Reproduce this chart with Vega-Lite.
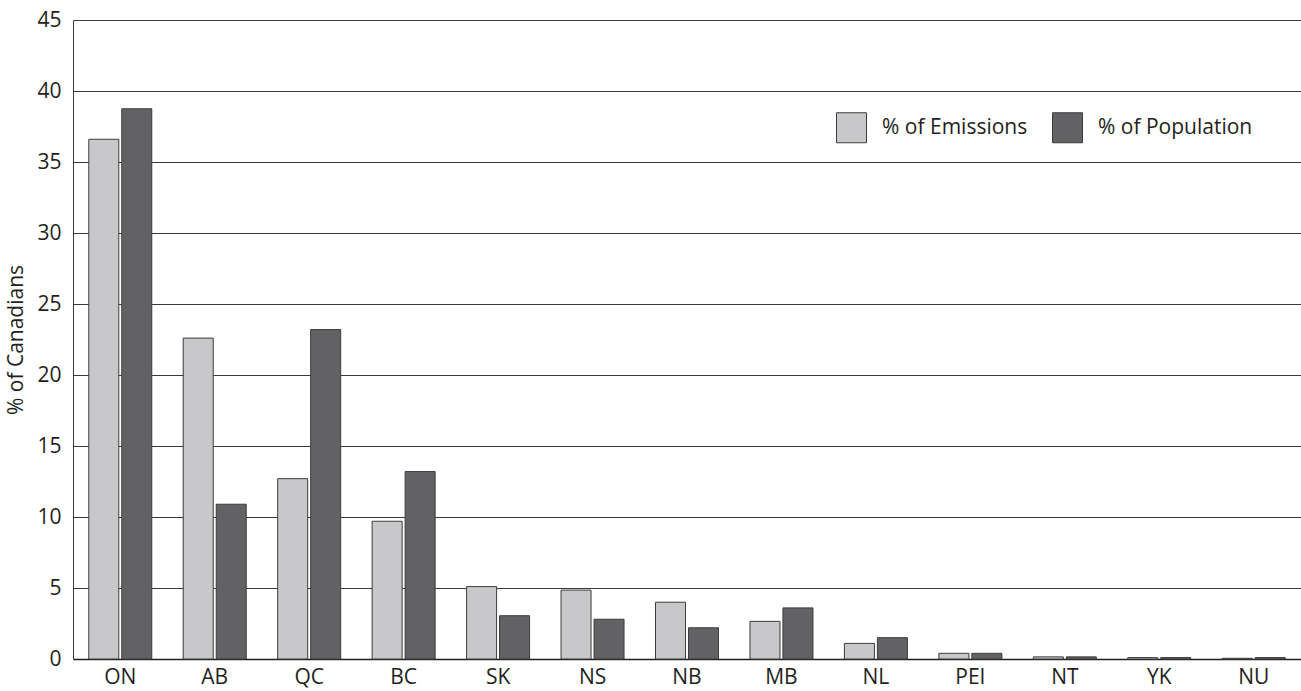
{
  "$schema": "https://vega.github.io/schema/vega-lite/v6.json",
  "width": 1228,
  "height": 639,
  "autosize": {"type": "none"},
  "padding": {"left": 73, "top": 20, "right": 0, "bottom": 32},
  "background": "white",
  "config": {
    "view": {"stroke": null},
    "font": "Open Sans"
  },
  "data": {
    "values": [
      {"prov": "ON", "series": "% of Emissions", "value": 36.6},
      {"prov": "ON", "series": "% of Population", "value": 38.75},
      {"prov": "AB", "series": "% of Emissions", "value": 22.6},
      {"prov": "AB", "series": "% of Population", "value": 10.9},
      {"prov": "QC", "series": "% of Emissions", "value": 12.7},
      {"prov": "QC", "series": "% of Population", "value": 23.2},
      {"prov": "BC", "series": "% of Emissions", "value": 9.7},
      {"prov": "BC", "series": "% of Population", "value": 13.2},
      {"prov": "SK", "series": "% of Emissions", "value": 5.1},
      {"prov": "SK", "series": "% of Population", "value": 3.05},
      {"prov": "NS", "series": "% of Emissions", "value": 4.85},
      {"prov": "NS", "series": "% of Population", "value": 2.8},
      {"prov": "NB", "series": "% of Emissions", "value": 4.0},
      {"prov": "NB", "series": "% of Population", "value": 2.2},
      {"prov": "MB", "series": "% of Emissions", "value": 2.65},
      {"prov": "MB", "series": "% of Population", "value": 3.6},
      {"prov": "NL", "series": "% of Emissions", "value": 1.1},
      {"prov": "NL", "series": "% of Population", "value": 1.5},
      {"prov": "PEI", "series": "% of Emissions", "value": 0.4},
      {"prov": "PEI", "series": "% of Population", "value": 0.4},
      {"prov": "NT", "series": "% of Emissions", "value": 0.15},
      {"prov": "NT", "series": "% of Population", "value": 0.15},
      {"prov": "YK", "series": "% of Emissions", "value": 0.1},
      {"prov": "YK", "series": "% of Population", "value": 0.1},
      {"prov": "NU", "series": "% of Emissions", "value": 0.05},
      {"prov": "NU", "series": "% of Population", "value": 0.1}
    ]
  },
  "mark": {"type": "bar", "stroke": "#3c3c3c", "strokeWidth": 1},
  "encoding": {
    "x": {
      "field": "prov",
      "type": "nominal",
      "sort": null,
      "scale": {"paddingInner": 0.333, "paddingOuter": 0.167},
      "axis": {
        "title": null,
        "labelAngle": 0,
        "labelFontSize": 21,
        "labelColor": "#231f20",
        "labelPadding": 7,
        "ticks": false,
        "domainColor": "#231f20",
        "domainWidth": 1.5
      }
    },
    "xOffset": {
      "field": "series",
      "type": "nominal",
      "scale": {"paddingInner": 0.09, "paddingOuter": 0}
    },
    "y": {
      "field": "value",
      "type": "quantitative",
      "scale": {"domain": [0, 45], "nice": false},
      "axis": {
        "title": "% of Canadians",
        "titleFontSize": 21,
        "titleFontWeight": "normal",
        "titleColor": "#231f20",
        "titlePadding": 10,
        "values": [0, 5, 10, 15, 20, 25, 30, 35, 40, 45],
        "labelFontSize": 21,
        "labelColor": "#231f20",
        "labelPadding": 12,
        "ticks": false,
        "grid": true,
        "gridColor": "#3a3a3a",
        "gridWidth": 1,
        "domainColor": "#3a3a3a",
        "domainWidth": 1
      }
    },
    "color": {
      "field": "series",
      "type": "nominal",
      "scale": {
        "domain": ["% of Emissions", "% of Population"],
        "range": ["#c8c8ca", "#626264"]
      },
      "legend": {
        "title": null,
        "orient": "none",
        "legendX": 763,
        "legendY": 92,
        "direction": "horizontal",
        "symbolType": "square",
        "symbolSize": 900,
        "symbolStrokeColor": "#3c3c3c",
        "symbolStrokeWidth": 1,
        "labelFontSize": 21,
        "labelColor": "#231f20",
        "labelOffset": 15,
        "columnPadding": 22,
        "padding": 0
      }
    }
  }
}
